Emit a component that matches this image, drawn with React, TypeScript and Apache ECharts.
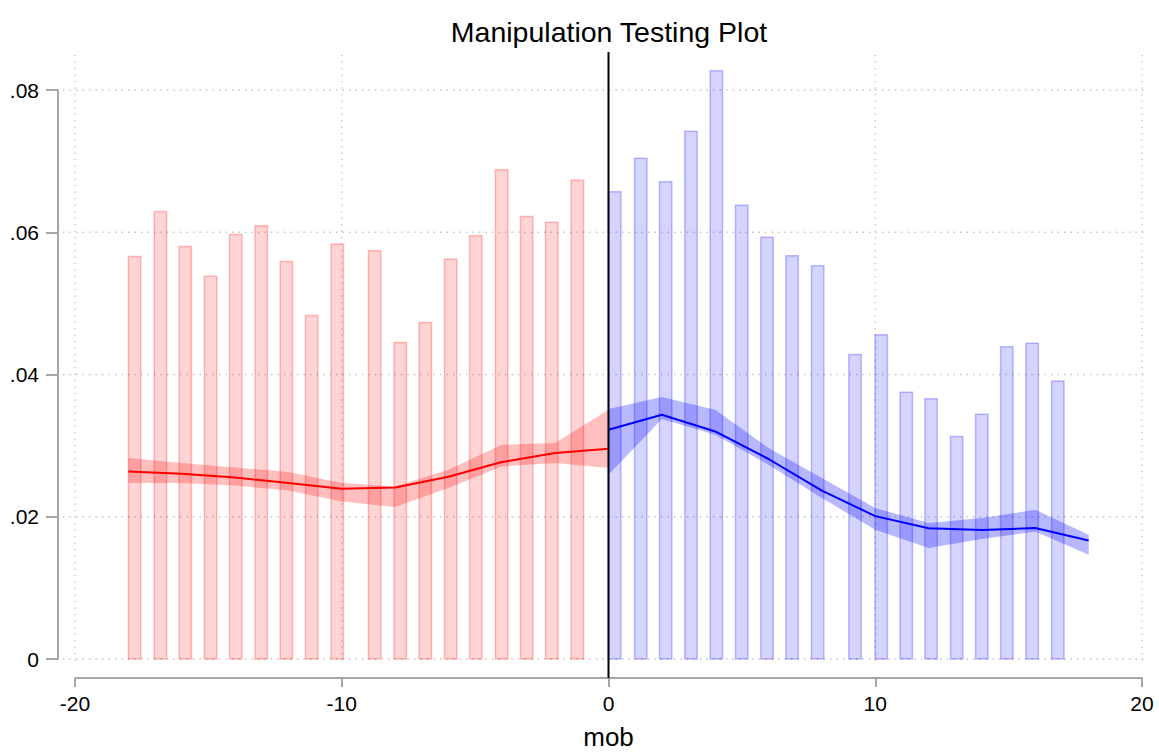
import React, { useEffect, useRef } from "react";
import * as echarts from "echarts";

// Histogram bins (left edge, height)
const redBinX = [-18, -17.03, -16.1, -15.15, -14.21, -13.25, -12.31, -11.36, -10.4, -9.0, -8.04, -7.1, -6.15, -5.21, -4.24, -3.3, -2.36, -1.4];
const redBinY = [0.0566, 0.0629, 0.058, 0.0538, 0.0597, 0.0609, 0.0559, 0.0483, 0.0583, 0.0574, 0.0445, 0.0473, 0.0562, 0.0595, 0.0688, 0.0622, 0.0614, 0.0673];
const blueBinX = [0, 0.975, 1.91, 2.86, 3.81, 4.76, 5.71, 6.65, 7.61, 9.01, 9.99, 10.93, 11.86, 12.82, 13.76, 14.7, 15.65, 16.61];
const blueBinY = [0.0657, 0.0704, 0.0671, 0.0742, 0.0827, 0.0638, 0.0593, 0.0567, 0.0553, 0.0428, 0.0456, 0.0375, 0.0366, 0.0313, 0.0344, 0.0439, 0.0444, 0.0391];
const BIN_W = 0.465;

// Density estimates and confidence bands
const redX = [-18, -16, -14, -12, -10, -8, -6, -4, -2, 0];
const redFit = [0.02637, 0.02604, 0.02552, 0.02474, 0.02395, 0.02412, 0.02562, 0.02769, 0.02895, 0.02956];
const redHi = [0.02825, 0.02755, 0.02693, 0.02628, 0.02474, 0.02426, 0.02661, 0.03012, 0.03036, 0.03504];
const redLo = [0.02474, 0.02474, 0.0244, 0.0237, 0.02215, 0.02136, 0.02403, 0.02707, 0.02755, 0.02684];

const blueX = [0, 2, 4, 6, 8, 10, 12, 14, 16, 18];
const blueFit = [0.03223, 0.03434, 0.03199, 0.02812, 0.02368, 0.02009, 0.01838, 0.01812, 0.01841, 0.01665];
const blueHi = [0.03514, 0.03682, 0.03504, 0.02966, 0.02544, 0.02122, 0.01911, 0.01982, 0.02098, 0.01747];
const blueLo = [0.0259, 0.03373, 0.03153, 0.02731, 0.02263, 0.01817, 0.0156, 0.01687, 0.01793, 0.01466];

const xTicks = [-20, -10, 0, 10, 20];
const yTicks = [0, 0.02, 0.04, 0.06, 0.08];

export default function App() {
  const ref = useRef<HTMLDivElement>(null);

  useEffect(() => {
    const chart = echarts.init(ref.current!, null, { renderer: "svg" });
    const font = "'Liberation Sans', Arial, Helvetica, sans-serif";
    const axisGray = "#a6a6a6";

    const barSeries = (xs: number[], ys: number[], fill: string, stroke: string, name: string) => ({
      type: "custom",
      name,
      z: 2,
      silent: true,
      data: xs.map((x, i) => [x, ys[i]]),
      encode: { x: 0, y: 1 },
      renderItem: (params: any, api: any) => {
        const x = api.value(0);
        const y = api.value(1);
        const p0 = api.coord([x, y]);
        const p1 = api.coord([x + BIN_W, 0]);
        return {
          type: "rect",
          shape: { x: p0[0], y: p0[1], width: p1[0] - p0[0], height: p1[1] - p0[1] },
          style: { fill, stroke, lineWidth: 1.5 },
        };
      },
    });

    const bandSeries = (xs: number[], lo: number[], hi: number[], fill: string, name: string) => ({
      type: "custom",
      name,
      z: 3,
      silent: true,
      data: xs.map((x, i) => [x, lo[i], hi[i]]),
      encode: { x: 0, y: [1, 2] },
      renderItem: (params: any, api: any) => {
        if (params.dataIndex !== 0) return null;
        const upper = xs.map((x, i) => api.coord([x, hi[i]]));
        const lower = xs.map((x, i) => api.coord([x, lo[i]])).reverse();
        return {
          type: "polygon",
          shape: { points: upper.concat(lower) },
          style: { fill },
        };
      },
    });

    const lineSeries = (xs: number[], ys: number[], color: string, name: string) => ({
      type: "line",
      name,
      z: 4,
      silent: true,
      symbol: "none",
      showSymbol: false,
      data: xs.map((x, i) => [x, ys[i]]),
      lineStyle: { color, width: 2 },
    });

    chart.setOption({
      animation: false,
      backgroundColor: "#ffffff",
      title: {
        text: "Manipulation Testing Plot",
        left: 604,
        textAlign: "center",
        top: 12,
        textStyle: { fontFamily: font, fontSize: 28.5, fontWeight: "normal", color: "#000" },
      },
      grid: { left: 75, right: 17, top: 90, bottom: 94, containLabel: false, outerBoundsMode: "none" },
      xAxis: {
        type: "value",
        min: -20,
        max: 20,
        interval: 10,
        offset: 19,
        name: "mob",
        nameLocation: "middle",
        nameGap: 46,
        nameTextStyle: { fontFamily: font, fontSize: 26, lineHeight: 26, color: "#000" },
        axisLine: { show: true, onZero: false, lineStyle: { color: axisGray, width: 2 } },
        axisTick: { show: true, length: 9, lineStyle: { color: axisGray, width: 2 } },
        axisLabel: { fontFamily: font, fontSize: 21, color: "#000", margin: 15 },
        splitLine: { show: false },
      },
      yAxis: {
        type: "value",
        min: 0,
        max: 0.08,
        interval: 0.02,
        offset: 17,
        axisLine: { show: true, onZero: false, lineStyle: { color: axisGray, width: 2 } },
        axisTick: { show: true, length: 12, lineStyle: { color: axisGray, width: 2 } },
        axisLabel: {
          fontFamily: font,
          fontSize: 21,
          color: "#000",
          margin: 19,
          formatter: (v: number) => (v === 0 ? "0" : v.toFixed(2).replace(/^0/, "")),
        },
        splitLine: { show: false },
      },
      series: [
        barSeries(redBinX, redBinY, "rgba(255,0,0,0.17)", "rgba(255,0,0,0.25)", "left bins"),
        barSeries(blueBinX, blueBinY, "rgba(0,0,255,0.17)", "rgba(0,0,255,0.25)", "right bins"),
        bandSeries(redX, redLo, redHi, "rgba(255,0,0,0.25)", "left CI"),
        bandSeries(blueX, blueLo, blueHi, "rgba(0,0,255,0.28)", "right CI"),
        lineSeries(redX, redFit, "#ff0000", "left density"),
        lineSeries(blueX, blueFit, "#0000ff", "right density"),
      ],
    });

    const px = (x: number, y: number) => chart.convertToPixel({ gridIndex: 0 }, [x, y]) as number[];
    const yTop = px(0, yTicks[yTicks.length - 1])[1];
    const yBot = px(0, yTicks[0])[1];
    const xLeft = px(xTicks[0], 0)[0];
    const xRight = px(xTicks[xTicks.length - 1], 0)[0];
    const gridStyle = { stroke: "#bdbdbd", lineWidth: 1.3, lineDash: [1.3, 5.2] };

    const elements: any[] = [];
    xTicks.forEach((t) => {
      const x = px(t, 0)[0];
      elements.push({
        type: "line",
        z: -1,
        silent: true,
        shape: { x1: x, y1: yTop - 35, x2: x, y2: yBot + 7 },
        style: gridStyle,
      });
    });
    yTicks.forEach((t) => {
      const y = px(0, t)[1];
      elements.push({
        type: "line",
        z: -1,
        silent: true,
        shape: { x1: xLeft - 12, y1: y, x2: xRight + 6, y2: y },
        style: gridStyle,
      });
    });
    const x0 = px(0, 0)[0];
    elements.push({
      type: "line",
      z: 100,
      silent: true,
      shape: { x1: x0, y1: yTop - 38, x2: x0, y2: yBot + 19 },
      style: { stroke: "#000", lineWidth: 2 },
    });
    chart.setOption({ graphic: elements });

    return () => chart.dispose();
  }, []);

  return (
    <div
      ref={ref}
      style={{ position: "absolute", left: 0, top: 0, width: 1159, height: 753, background: "#fff" }}
    />
  );
}
